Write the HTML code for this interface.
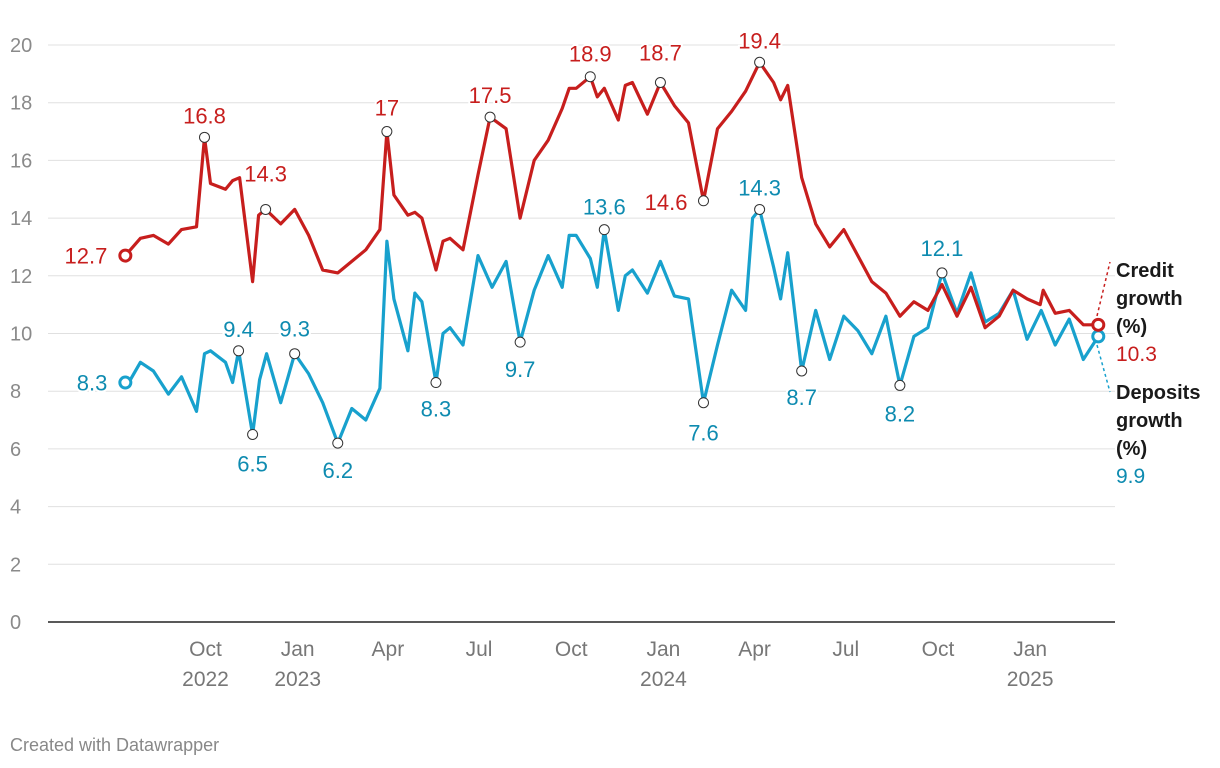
<!DOCTYPE html>
<html><head><meta charset="utf-8">
<style>
html,body{margin:0;padding:0;background:#fff;width:1220px;height:768px;overflow:hidden}
svg{display:block;font-family:"Liberation Sans",sans-serif}
</style></head>
<body>
<svg id="chart" width="1220" height="768"></svg>
<script>
// data: day offsets relative to 2022-10-01, values in %
const creditDays=[-79,-64,-51,-36,-23,-8,0,6,21,28,35,48,54,61,76,90,104,118,133,161,175,182,189,203,210,217,231,238,245,258,273,285,301,315,329,343,357,364,371,385,392,399,413,420,427,442,455,469,483,498,512,526,540,554,568,575,582,596,610,624,638,652,666,680,694,708,722,736,751,765,779,793,807,821,834,837,849,863,877,892];
const creditVals=[12.7,13.3,13.4,13.1,13.6,13.7,16.8,15.2,15.0,15.3,15.4,11.8,14.1,14.3,13.8,14.3,13.4,12.2,12.1,12.9,13.6,17.0,14.8,14.1,14.2,14.0,12.2,13.2,13.3,12.9,15.5,17.5,17.1,14.0,16.0,16.7,17.8,18.5,18.5,18.9,18.2,18.5,17.4,18.6,18.7,17.6,18.7,17.9,17.3,14.6,17.1,17.7,18.4,19.4,18.7,18.1,18.6,15.4,13.8,13.0,13.6,12.7,11.8,11.4,10.6,11.1,10.8,11.7,10.6,11.6,10.2,10.6,11.5,11.2,11.0,11.5,10.7,10.8,10.3,10.3];
const depDays=[-79,-74,-64,-51,-36,-23,-8,0,6,21,28,34,48,55,62,76,90,104,118,133,147,161,175,182,189,203,210,217,231,238,245,258,273,287,301,315,329,343,357,364,371,385,392,399,413,420,427,442,455,469,483,498,512,526,540,547,554,568,575,582,596,610,624,638,652,666,680,694,708,722,736,751,765,779,793,807,821,835,849,863,877,892];
const depVals=[8.3,8.4,9.0,8.7,7.9,8.5,7.3,9.3,9.4,9.0,8.3,9.4,6.5,8.4,9.3,7.6,9.3,8.6,7.6,6.2,7.4,7.0,8.1,13.2,11.2,9.4,11.4,11.1,8.3,10.0,10.2,9.6,12.7,11.6,12.5,9.7,11.5,12.7,11.6,13.4,13.4,12.6,11.6,13.6,10.8,12.0,12.2,11.4,12.5,11.3,11.2,7.6,9.6,11.5,10.8,14.0,14.3,12.3,11.2,12.8,8.7,10.8,9.1,10.6,10.1,9.3,10.6,8.2,9.9,10.2,12.1,10.7,12.1,10.4,10.7,11.5,9.8,10.8,9.6,10.5,9.1,9.9];
// annotations: [index, label dx, label center dy, anchor]
const creditNotes=[[0,-18,0,'end'],[6,0,-22,'middle'],[13,0,-36,'middle'],[21,0,-24,'middle'],[31,0,-22,'middle'],[39,0,-23,'middle'],[46,0,-30,'middle'],[49,-16,1,'end'],[53,0,-22,'middle']];
const depNotes=[[0,-18,0,'end'],[11,0,-22,'middle'],[12,0,29,'middle'],[16,0,-25,'middle'],[19,0,27,'middle'],[28,0,26,'middle'],[35,0,27,'middle'],[43,0,-23,'middle'],[51,0,30,'middle'],[56,0,-22,'middle'],[60,0,26,'middle'],[67,0,28,'middle'],[70,0,-25,'middle']];
const yTicks=[0,2,4,6,8,10,12,14,16,18,20];
const xTickDays=[0,92,182,273,365,457,548,639,731,823];
const xTickL1=['Oct','Jan','Apr','Jul','Oct','Jan','Apr','Jul','Oct','Jan'];
const xTickL2=['2022','2023','','','','2024','','','','2025'];

const NS='http://www.w3.org/2000/svg';
const svg=document.getElementById('chart');
const x=d=>204.5+d*1.002;
const y=v=>622-v*28.85;
function mk(tag,attrs,parent){const e=document.createElementNS(NS,tag);for(const k in attrs)e.setAttribute(k,attrs[k]);(parent||svg).appendChild(e);return e;}

yTicks.forEach(t=>{
  if(t>0){const g=mk('line',{x1:48,x2:1115,y1:y(t),y2:y(t),stroke:'#e0e0e0','stroke-width':1});
  
  }
  const l=mk('text',{x:10,y:y(t)+7,fill:'#8a8a8a','font-size':20});
  l.textContent=t;
  
  
});
const base=mk('line',{x1:48,x2:1115,y1:622,y2:622,stroke:'#222','stroke-width':1.5});


xTickDays.forEach((d,i)=>{
  const t=mk('text',{x:x(d)+1,y:656,fill:'#777','font-size':21,'text-anchor':'middle'});
  t.textContent=xTickL1[i];
  
  
  if(xTickL2[i]){const t2=mk('text',{x:x(d)+1,y:686,fill:'#777','font-size':21,'text-anchor':'middle'});
  t2.textContent=xTickL2[i];
  
  }
});

function series(days,vals,color,lab,name,notes){
  const p=mk('path',{d:days.map((d,i)=>(i?'L':'M')+x(d).toFixed(1)+','+y(vals[i]).toFixed(1)).join(''),fill:'none',stroke:color,'stroke-width':3.2,'stroke-linejoin':'round'});
  
  
  notes.forEach(([i,dx,dy,anc])=>{
    const cx=x(days[i]),cy=y(vals[i]);
    const big=(i===0);
    const c=mk('circle',{cx:cx,cy:cy,r:big?5.5:5,fill:'#fff',stroke:big?color:'#333','stroke-width':big?3:1});
    
    
    const t=mk('text',{x:cx+dx,y:cy+dy+8,fill:lab,'font-size':22,'text-anchor':anc,stroke:'#fff','stroke-width':4,'paint-order':'stroke'});
    t.textContent=vals[i];
    
    
  });
  const li=vals.length-1;
  const e=mk('circle',{cx:x(days[li]),cy:y(vals[li]),r:5.5,fill:'#fff',stroke:color,'stroke-width':3});
  
  
}
series(depDays,depVals,'#18a1cd','#0e8bb0','deposits',depNotes);
series(creditDays,creditVals,'#c71e1d','#c71e1d','credit',creditNotes);

// legend leaders
const ld1=mk('path',{d:'M1097,316 L1110,262',stroke:'#c71e1d','stroke-width':1.5,'stroke-dasharray':'3,3',fill:'none'});


const ld2=mk('path',{d:'M1097,345 L1110,392',stroke:'#18a1cd','stroke-width':1.5,'stroke-dasharray':'3,3',fill:'none'});


function lab(lines,y0,color,vtxt,name){
  lines.forEach((s,i)=>{const t=mk('text',{x:1116,y:y0+i*28,'font-size':20,'font-weight':'bold',fill:'#1a1a1a'});t.textContent=s;
  
  });
  const v=mk('text',{x:1116,y:y0+lines.length*28,'font-size':21,fill:color});v.textContent=vtxt;
  
  
}
lab(['Credit','growth','(%)'],277,'#c71e1d',creditVals[creditVals.length-1],'credit');
lab(['Deposits','growth','(%)'],399,'#0e8bb0',depVals[depVals.length-1],'deposits');

const f=mk('text',{x:10,y:751,'font-size':18,fill:'#888'});
f.textContent='Created with Datawrapper';


</script>
</body></html>
